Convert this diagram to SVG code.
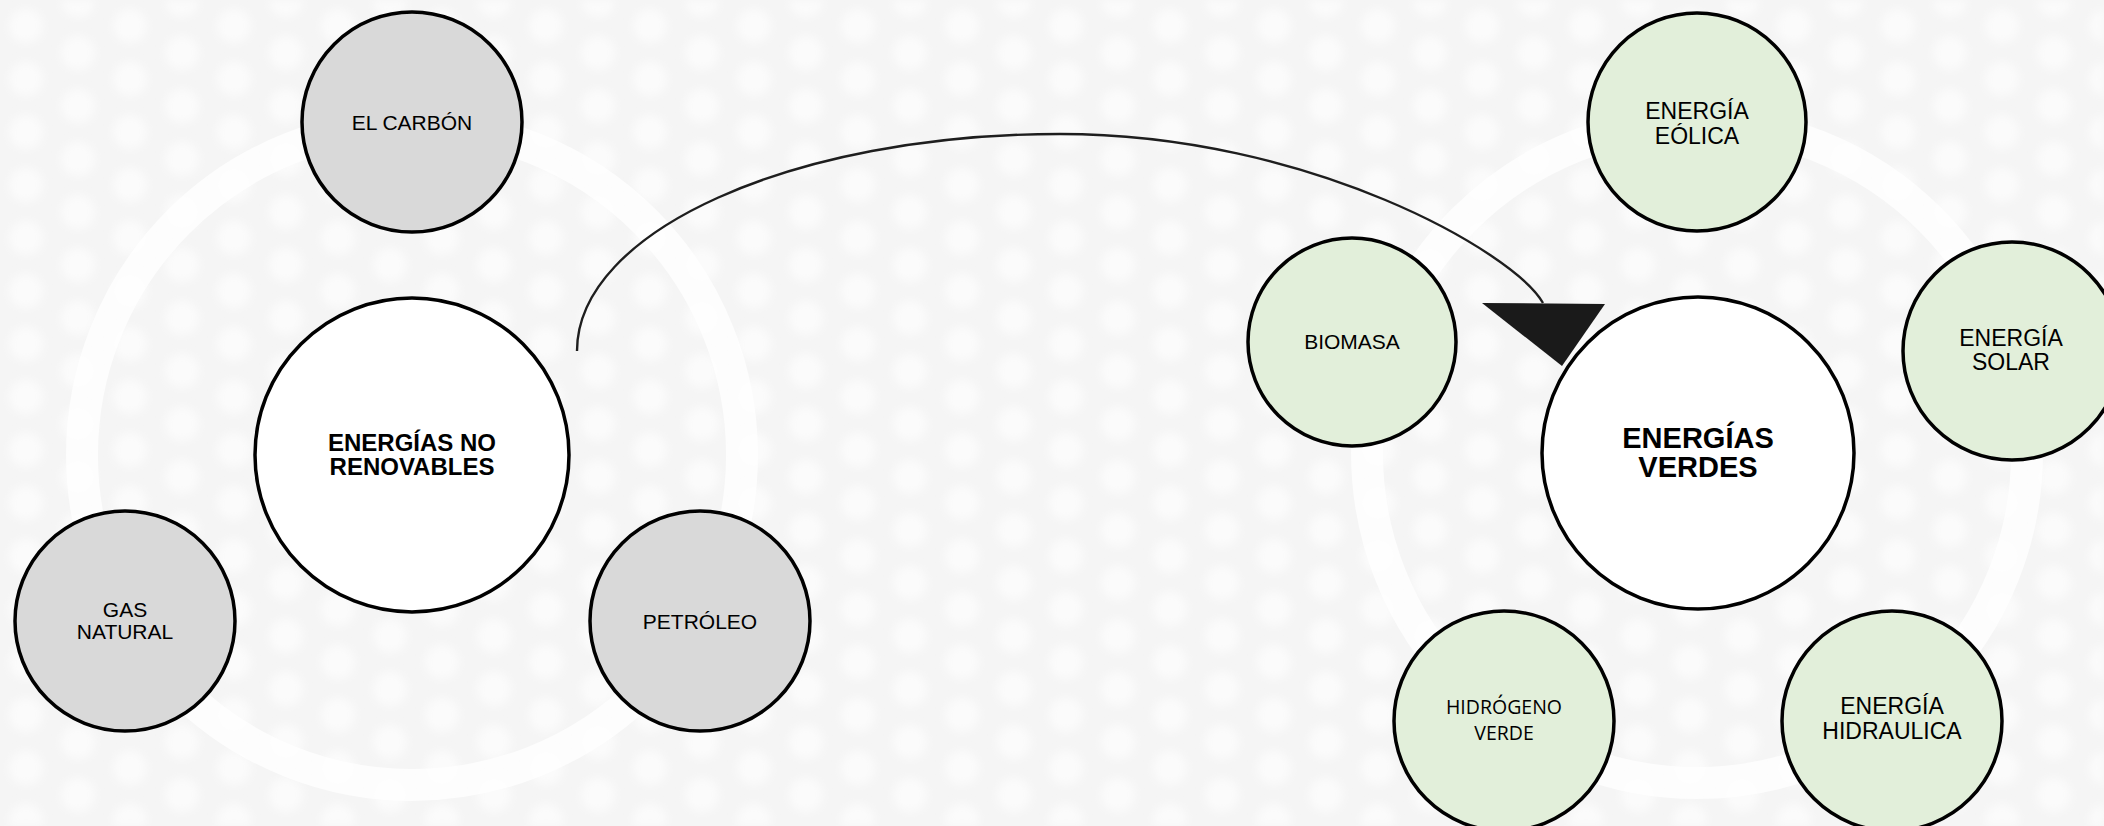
<svg xmlns="http://www.w3.org/2000/svg" width="2104" height="826" viewBox="0 0 2104 826">
  <defs>
    <pattern id="dots" width="104" height="106" patternUnits="userSpaceOnUse">
      <circle cx="26" cy="26" r="17" fill="#fbfbfb"/>
      <circle cx="26" cy="79" r="17" fill="#fbfbfb"/>
      <circle cx="78" cy="0" r="17" fill="#fbfbfb"/>
      <circle cx="78" cy="53" r="17" fill="#fbfbfb"/>
      <circle cx="78" cy="106" r="17" fill="#fbfbfb"/>
    </pattern>
    <filter id="soft" x="0" y="0" width="1" height="1">
      <feGaussianBlur stdDeviation="4"/>
    </filter>
    <style>
      .node circle { stroke: #000; stroke-width: 3.5; }
      .gray { fill: #d9d9d9; }
      .green { fill: #e2efda; }
      .hub { fill: #ffffff; }
      text { font-family: "Liberation Sans", Arial, sans-serif; fill: #000; text-anchor: middle; }
      .lbl { font-size: 21px; }
      .lbl23 { font-size: 23px; }
      .hubtxt { font-weight: bold; }
      .alt { font-family: "Open Sans", "Noto Sans", sans-serif; font-size: 19.5px; }
      .ring { fill: none; stroke: #ffffff; stroke-width: 32; opacity: 0.75; }
    </style>
  </defs>

  <g id="background">
    <rect x="0" y="0" width="2104" height="826" fill="#f5f5f5"/>
    <rect x="0" y="0" width="2104" height="826" fill="url(#dots)" filter="url(#soft)"/>
    <circle class="ring" cx="412" cy="455" r="330"/>
    <circle class="ring" cx="1697" cy="453" r="330"/>
  </g>

  <g id="connectors">
    <path d="M577,351 C577,231 793,134 1060,134 C1310,134 1515,253 1543,303" fill="none" stroke="#1e1e1e" stroke-width="2.4"/>
    <polygon points="1482,303 1605,304 1562,366" fill="#1a1a1a"/>
  </g>

  <g id="node-no-renovables" class="node">
    <circle class="hub" cx="412" cy="455" r="157"/>
    <text class="hubtxt" font-size="24" x="412" y="451">ENERGÍAS NO</text>
    <text class="hubtxt" font-size="24" x="412" y="475">RENOVABLES</text>
  </g>
  <g id="node-carbon" class="node">
    <circle class="gray" cx="412" cy="122" r="110"/>
    <text class="lbl" x="412" y="129.5">EL CARBÓN</text>
  </g>
  <g id="node-gas" class="node">
    <circle class="gray" cx="125" cy="621" r="110"/>
    <text class="lbl" x="125" y="617">GAS</text>
    <text class="lbl" x="125" y="639">NATURAL</text>
  </g>
  <g id="node-petroleo" class="node">
    <circle class="gray" cx="700" cy="621" r="110"/>
    <text class="lbl" x="700" y="628.5">PETRÓLEO</text>
  </g>

  <g id="node-verdes" class="node">
    <circle class="hub" cx="1698" cy="453" r="156"/>
    <text class="hubtxt" font-size="29" x="1698" y="448">ENERGÍAS</text>
    <text class="hubtxt" font-size="29" x="1698" y="477">VERDES</text>
  </g>
  <g id="node-eolica" class="node">
    <circle class="green" cx="1697" cy="122" r="109"/>
    <text class="lbl23" x="1697" y="118.5">ENERGÍA</text>
    <text class="lbl23" x="1697" y="143.5">EÓLICA</text>
  </g>
  <g id="node-biomasa" class="node">
    <circle class="green" cx="1352" cy="342" r="104"/>
    <text class="lbl" x="1352" y="349">BIOMASA</text>
  </g>
  <g id="node-solar" class="node">
    <circle class="green" cx="2012" cy="351" r="109"/>
    <text class="lbl23" x="2011" y="346">ENERGÍA</text>
    <text class="lbl23" x="2011" y="370">SOLAR</text>
  </g>
  <g id="node-hidrogeno" class="node">
    <circle class="green" cx="1504" cy="721" r="110"/>
    <text class="alt" x="1504" y="714">HIDRÓGENO</text>
    <text class="alt" x="1504" y="740">VERDE</text>
  </g>
  <g id="node-hidraulica" class="node">
    <circle class="green" cx="1892" cy="721" r="110"/>
    <text class="lbl23" x="1892" y="714">ENERGÍA</text>
    <text class="lbl23" x="1892" y="739">HIDRAULICA</text>
  </g>
</svg>
